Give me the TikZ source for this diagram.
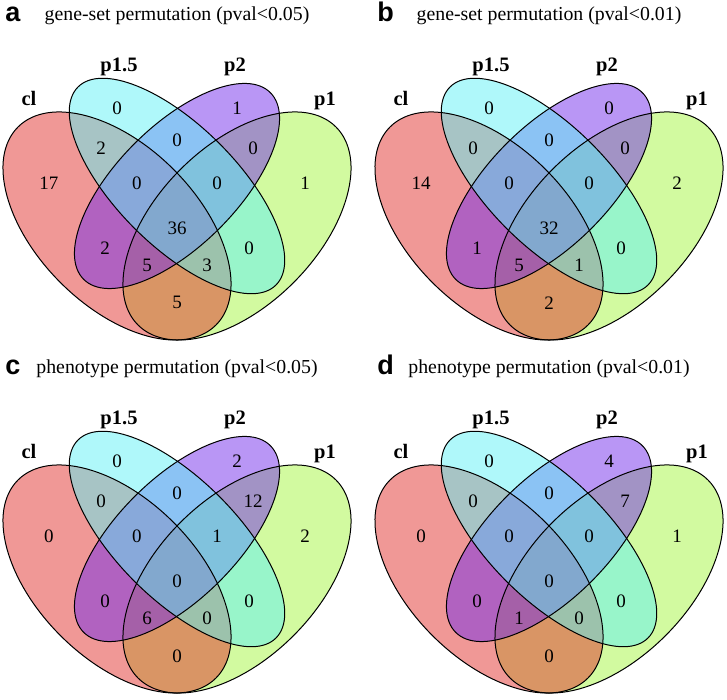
\documentclass[tikz,border=0pt]{standalone}
\usepackage{fontspec}
\setmainfont{Liberation Serif}
\setsansfont{Liberation Sans}

\definecolor{clcol}{RGB}{225,49,45}
\definecolor{pfivecol}{RGB}{95,241,245}
\definecolor{ptwocol}{RGB}{115,45,235}
\definecolor{ponecol}{RGB}{165,245,65}

\tikzset{
  regnum/.style={font=\fontsize{19}{19}\selectfont},
  setlab/.style={anchor=base,font=\bfseries\fontsize{20.5}{21}\selectfont},
  ptitle/.style={anchor=base,font=\fontsize{19.8}{20}\selectfont},
  pletter/.style={anchor=base west,font=\sffamily\bfseries\fontsize{27}{27}\selectfont},
  vennfill/.style={fill opacity=0.5},
  vennline/.style={draw=black,line width=1pt}
}

% the four sets and their region spots
\newcommand{\drawvenn}{%
\fill[ponecol,vennfill,rotate around={45:(0.65,0.47)}] (0.65,0.47) ellipse (0.35 and 0.20);
\fill[clcol,vennfill,rotate around={135:(0.35,0.47)}] (0.35,0.47) ellipse (0.35 and 0.20);
\fill[ptwocol,vennfill,rotate around={45:(0.5,0.57)}] (0.5,0.57) ellipse (0.33 and 0.15);
\fill[pfivecol,vennfill,rotate around={135:(0.5,0.57)}] (0.5,0.57) ellipse (0.35 and 0.15);
\path[vennline,rotate around={45:(0.65,0.47)}] (0.65,0.47) ellipse (0.35 and 0.20);
\path[vennline,rotate around={135:(0.35,0.47)}] (0.35,0.47) ellipse (0.35 and 0.20);
\path[vennline,rotate around={45:(0.5,0.57)}] (0.5,0.57) ellipse (0.33 and 0.15);
\path[vennline,rotate around={135:(0.5,0.57)}] (0.5,0.57) ellipse (0.35 and 0.15);
\node[setlab] (cl) at (0.13,0.77) {cl};
\node[setlab] (p15) at (0.355,0.857) {p1.5};
\node[setlab] (p2) at (0.645,0.857) {p2};
\node[setlab] (p1) at (0.87,0.77) {p1};
\coordinate (r1) at (0.35,0.765);
\coordinate (r2) at (0.65,0.765);
\coordinate (r3) at (0.18,0.578);
\coordinate (r4) at (0.82,0.578);
\coordinate (r5) at (0.31,0.665);
\coordinate (r6) at (0.5,0.685);
\coordinate (r7) at (0.69,0.665);
\coordinate (r8) at (0.4,0.578);
\coordinate (r9) at (0.6,0.578);
\coordinate (r10) at (0.5,0.465);
\coordinate (r11) at (0.32,0.415);
\coordinate (r12) at (0.68,0.415);
\coordinate (r13) at (0.425,0.372);
\coordinate (r14) at (0.575,0.372);
\coordinate (r15) at (0.5,0.278);
}

\begin{document}
\begin{tikzpicture}
\useasboundingbox (0,0) rectangle (727pt,700pt);
\begin{scope}[shift={(-23pt,286pt)},x=400pt,y=400pt]
\drawvenn
\node[pletter] (la) at (0.062,0.981) {a};
\node[ptitle] (ta) at (0.5,0.983) {gene-set permutation (pval<0.05)};
\node[regnum] (n1) at (r1) {0};
\node[regnum] (n2) at (r2) {1};
\node[regnum] (n3) at (r3) {17};
\node[regnum] (n4) at (r4) {1};
\node[regnum] (n5) at (r5) {2};
\node[regnum] (n6) at (r6) {0};
\node[regnum] (n7) at (r7) {0};
\node[regnum] (n8) at (r8) {0};
\node[regnum] (n9) at (r9) {0};
\node[regnum] (n10) at (r10) {36};
\node[regnum] (n11) at (r11) {2};
\node[regnum] (n12) at (r12) {0};
\node[regnum] (n13) at (r13) {5};
\node[regnum] (n14) at (r14) {3};
\node[regnum] (n15) at (r15) {5};
\end{scope}
\begin{scope}[shift={(349pt,286pt)},x=400pt,y=400pt]
\drawvenn
\node[pletter] (lb) at (0.062,0.981) {b};
\node[ptitle] (tb) at (0.5,0.983) {gene-set permutation (pval<0.01)};
\node[regnum] (n1) at (r1) {0};
\node[regnum] (n2) at (r2) {0};
\node[regnum] (n3) at (r3) {14};
\node[regnum] (n4) at (r4) {2};
\node[regnum] (n5) at (r5) {0};
\node[regnum] (n6) at (r6) {0};
\node[regnum] (n7) at (r7) {0};
\node[regnum] (n8) at (r8) {0};
\node[regnum] (n9) at (r9) {0};
\node[regnum] (n10) at (r10) {32};
\node[regnum] (n11) at (r11) {1};
\node[regnum] (n12) at (r12) {0};
\node[regnum] (n13) at (r13) {5};
\node[regnum] (n14) at (r14) {1};
\node[regnum] (n15) at (r15) {2};
\end{scope}
\begin{scope}[shift={(-23pt,-67pt)},x=400pt,y=400pt]
\drawvenn
\node[pletter] (lc) at (0.062,0.981) {c};
\node[ptitle] (tc) at (0.5,0.983) {phenotype permutation (pval<0.05)};
\node[regnum] (n1) at (r1) {0};
\node[regnum] (n2) at (r2) {2};
\node[regnum] (n3) at (r3) {0};
\node[regnum] (n4) at (r4) {2};
\node[regnum] (n5) at (r5) {0};
\node[regnum] (n6) at (r6) {0};
\node[regnum] (n7) at (r7) {12};
\node[regnum] (n8) at (r8) {0};
\node[regnum] (n9) at (r9) {1};
\node[regnum] (n10) at (r10) {0};
\node[regnum] (n11) at (r11) {0};
\node[regnum] (n12) at (r12) {0};
\node[regnum] (n13) at (r13) {6};
\node[regnum] (n14) at (r14) {0};
\node[regnum] (n15) at (r15) {0};
\end{scope}
\begin{scope}[shift={(349pt,-67pt)},x=400pt,y=400pt]
\drawvenn
\node[pletter] (ld) at (0.062,0.981) {d};
\node[ptitle] (td) at (0.5,0.983) {phenotype permutation (pval<0.01)};
\node[regnum] (n1) at (r1) {0};
\node[regnum] (n2) at (r2) {4};
\node[regnum] (n3) at (r3) {0};
\node[regnum] (n4) at (r4) {1};
\node[regnum] (n5) at (r5) {0};
\node[regnum] (n6) at (r6) {0};
\node[regnum] (n7) at (r7) {7};
\node[regnum] (n8) at (r8) {0};
\node[regnum] (n9) at (r9) {0};
\node[regnum] (n10) at (r10) {0};
\node[regnum] (n11) at (r11) {0};
\node[regnum] (n12) at (r12) {0};
\node[regnum] (n13) at (r13) {1};
\node[regnum] (n14) at (r14) {0};
\node[regnum] (n15) at (r15) {0};
\end{scope}
\end{tikzpicture}
\end{document}
